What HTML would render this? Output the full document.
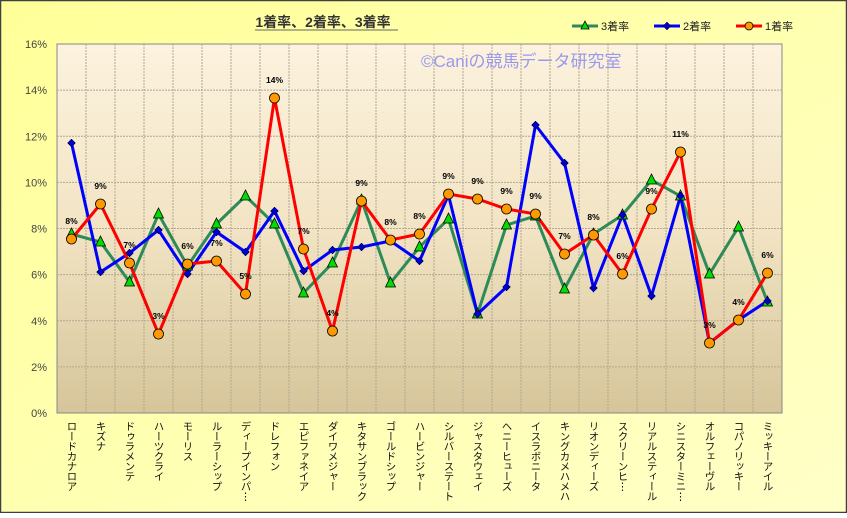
<!DOCTYPE html>
<html><head><meta charset="utf-8"><style>
body{margin:0;width:847px;height:513px;overflow:hidden;font-family:"Liberation Sans","Noto Sans CJK JP",sans-serif}
</style></head><body>
<svg width="847" height="513" xmlns="http://www.w3.org/2000/svg" font-family="Liberation Sans, Noto Sans CJK JP, sans-serif">
<defs>
<linearGradient id="bg" x1="0" y1="0" x2="1" y2="1"><stop offset="0" stop-color="#FFFF99"/><stop offset="1" stop-color="#FFFFC8"/></linearGradient>
<linearGradient id="pl" x1="0" y1="0" x2="0" y2="1"><stop offset="0" stop-color="#FCF2DE"/><stop offset="0.5" stop-color="#F2E4C4"/><stop offset="1" stop-color="#D6C59A"/></linearGradient>
</defs>
<rect x="0.5" y="0.5" width="846" height="512" fill="url(#bg)" stroke="#404040" stroke-width="1.5"/>
<rect x="57" y="44" width="725" height="369" fill="url(#pl)" stroke="#888" stroke-width="1"/>
<g id="grid" stroke="#b0a890" stroke-dasharray="2,1" stroke-width="1"></g>
<text x="323" y="27" font-size="14" font-weight="bold" text-anchor="middle" fill="#333">1着率、2着率、3着率</text>
<line x1="255" y1="30" x2="398" y2="30" stroke="#666" stroke-width="1"/>
<text x="421" y="67" font-size="17" fill="#9999ee">©Caniの競馬データ研究室</text>
<g font-size="11" fill="#222">
<line x1="572" y1="26" x2="598" y2="26" stroke="#2e8b57" stroke-width="3"/><polygon points="585,21 589,29 581,29" fill="#00dd00" stroke="#000" stroke-width="0.8"/><text x="601" y="30">3着率</text>
<line x1="654" y1="26" x2="680" y2="26" stroke="#0000ff" stroke-width="3"/><polygon points="667,22 671,26 667,30 663,26" fill="#0000cc" stroke="#000" stroke-width="0.5"/><text x="683" y="30">2着率</text>
<line x1="736" y1="26" x2="762" y2="26" stroke="#ff0000" stroke-width="3"/><circle cx="749" cy="26" r="4" fill="#ff9900" stroke="#000" stroke-width="0.8"/><text x="765" y="30">1着率</text>
</g>
<g id="yl" font-size="11" fill="#444" text-anchor="end"></g>
<g id="series"></g>
<g id="xl"></g>
</svg>
<script>
const ns="http://www.w3.org/2000/svg";
function el(t,a,p,txt){const e=document.createElementNS(ns,t);for(const k in a)e.setAttribute(k,a[k]);if(txt!==undefined)e.textContent=txt;document.getElementById(p).appendChild(e);return e;}
const L=57,T=44,B=413,W=29;
for(let i=1;i<8;i++){const y=B-i*369/8;el('line',{x1:L,x2:782,y1:y,y2:y},'grid');}
for(let i=1;i<25;i++){const x=L+i*W;el('line',{x1:x,x2:x,y1:T,y2:B},'grid');}
for(let i=0;i<=8;i++){el('text',{x:47,y:B-i*369/8+4},'yl',(i*2)+'%');}
const names=["ロードカナロア","キズナ","ドゥラメンテ","ハーツクライ","モーリス","ルーラーシップ","ディープインパ…","ドレフォン","エピファネイア","ダイワメジャー","キタサンブラック","ゴールドシップ","ハービンジャー","シルバーステート","ジャスタウェイ","ヘニーヒューズ","イスラボニータ","キングカメハメハ","リオンディーズ","スクリーンヒ…","リアルスティール","シニスターミニ…","オルフェーヴル","コパノリッキー","ミッキーアイル"];
const g=[234,242,282,214,266,224,196,224,293,263,200,283,247,219,314,225,216,289,234,215,180,196,274,227,302];
const b=[143,272,253,230,274,232,252,211,271,250,247,241,261,195,314,287,125,163,288,215,296,196,343,320,301];
const r=[239,204,263,334,264,261,294,98,249,331,201,240,234,194,199,209,214,254,235,274,209,152,343,320,273];
const lab=[8,9,7,3,6,7,5,14,7,4,9,8,8,9,9,9,9,7,8,6,9,11,3,4,6];
const cx=i=>L+W*(i+0.5);
function line(d,c){el('polyline',{points:d.map((y,i)=>cx(i)+','+y).join(' '),fill:'none',stroke:c,'stroke-width':3},'series');}
line(g,'#2e8b57');line(b,'#0000ff');line(r,'#ff0000');
g.forEach((y,i)=>{const x=cx(i);el('polygon',{points:`${x},${y-6} ${x+5},${y+4} ${x-5},${y+4}`,fill:'#00dd00',stroke:'#000','stroke-width':0.8},'series');});
b.forEach((y,i)=>{const x=cx(i);el('polygon',{points:`${x},${y-4} ${x+4},${y} ${x},${y+4} ${x-4},${y}`,fill:'#0000cc',stroke:'#000','stroke-width':0.5},'series');});
r.forEach((y,i)=>{const x=cx(i);el('circle',{cx:x,cy:y,r:5,fill:'#ff9900',stroke:'#000','stroke-width':0.8},'series');
el('text',{x:x,y:y-15,'font-size':8.5,'font-weight':'bold','text-anchor':'middle',fill:'#000'},'series',lab[i]+'%');});
names.forEach((n,i)=>{el('text',{x:cx(i),y:421,'font-size':10.5,fill:'#111',style:'writing-mode:vertical-rl;text-orientation:upright;letter-spacing:-0.5px'},'xl',n.replace('…','⋮'));});
</script>
</body></html>
